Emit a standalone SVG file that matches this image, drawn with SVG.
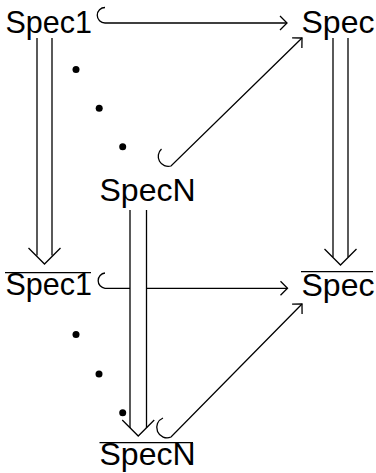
<svg xmlns="http://www.w3.org/2000/svg" width="376" height="473" viewBox="0 0 376 473">
<style>
.lbl{font-family:"Liberation Sans",Arial,sans-serif;font-size:32px;fill:#000}
.s1{font-size:30.5px}
.ln{fill:none;stroke:#000;stroke-width:1.3}
.bar{stroke:#000;stroke-width:1.3}
.dot{fill:#000}
</style>
<defs>
<marker id="ah" markerUnits="userSpaceOnUse" markerWidth="20" markerHeight="20" viewBox="-10 -10 20 20" refX="0" refY="0" orient="auto">
<path d="M-7,-7 L0,0 L-7,7" fill="none" stroke="#000" stroke-width="1.3"/>
</marker>
</defs>
<rect width="376" height="473" fill="#fff"/>
<g id="connectors">
<path class="ln" d="M105,7.5 A7.7,7.7 0 0 0 105,23 L287,23" marker-end="url(#ah)"/>
<path class="ln" d="M105,273 A7.7,7.7 0 0 0 105,288.3 L287.5,288.3" marker-end="url(#ah)"/>
<path class="ln" d="M161.5,149 A10,10 0 0 0 171,166 L302,38" marker-end="url(#ah)"/>
<path class="ln" d="M163,418 A10,10 0 0 0 171,437 L302,304" marker-end="url(#ah)"/>
<g id="dbl-left">
<line class="ln" x1="37" y1="38" x2="37" y2="255.5"/>
<line class="ln" x1="52" y1="38" x2="52" y2="255.5"/>
<path class="ln" d="M28.5,248 L44.5,264 L60.5,248"/>
</g>
<g id="dbl-right">
<line class="ln" x1="333" y1="38" x2="333" y2="257"/>
<line class="ln" x1="348" y1="38" x2="348" y2="257"/>
<path class="ln" d="M324.5,249 L340.5,265 L356.5,249"/>
</g>
<g id="dbl-mid">
<rect x="130" y="210" width="16.5" height="218" fill="#fff"/>
<line class="ln" x1="130" y1="210" x2="130" y2="428"/>
<line class="ln" x1="146.5" y1="210" x2="146.5" y2="428"/>
<path class="ln" d="M122.25,420 L138.25,436 L154.25,420"/>
</g>
</g>
<g id="dots">
<circle class="dot" cx="76" cy="69.5" r="3.5"/>
<circle class="dot" cx="99.2" cy="108.3" r="3.5"/>
<circle class="dot" cx="122.7" cy="146.7" r="3.5"/>
<circle class="dot" cx="76" cy="334.5" r="3.5"/>
<circle class="dot" cx="99" cy="374" r="3.5"/>
<circle class="dot" cx="122.7" cy="412.7" r="3.5"/>
</g>
<g id="spec1"><text class="lbl s1" x="5.5" y="33">Spec1</text></g>
<g id="spec"><text class="lbl" x="301.5" y="33">Spec</text></g>
<g id="specN"><text class="lbl" x="99.5" y="201">SpecN</text></g>
<g id="spec1bar"><line class="bar" x1="5" y1="272.7" x2="91" y2="272.7"/><text class="lbl s1" x="5.5" y="295">Spec1</text></g>
<g id="specbar"><line class="bar" x1="301" y1="271.7" x2="373" y2="271.7"/><text class="lbl" x="301.5" y="296">Spec</text></g>
<g id="specNbar"><line class="bar" x1="99.5" y1="442.7" x2="193" y2="442.7"/><text class="lbl" x="99.5" y="465">SpecN</text></g>
</svg>
